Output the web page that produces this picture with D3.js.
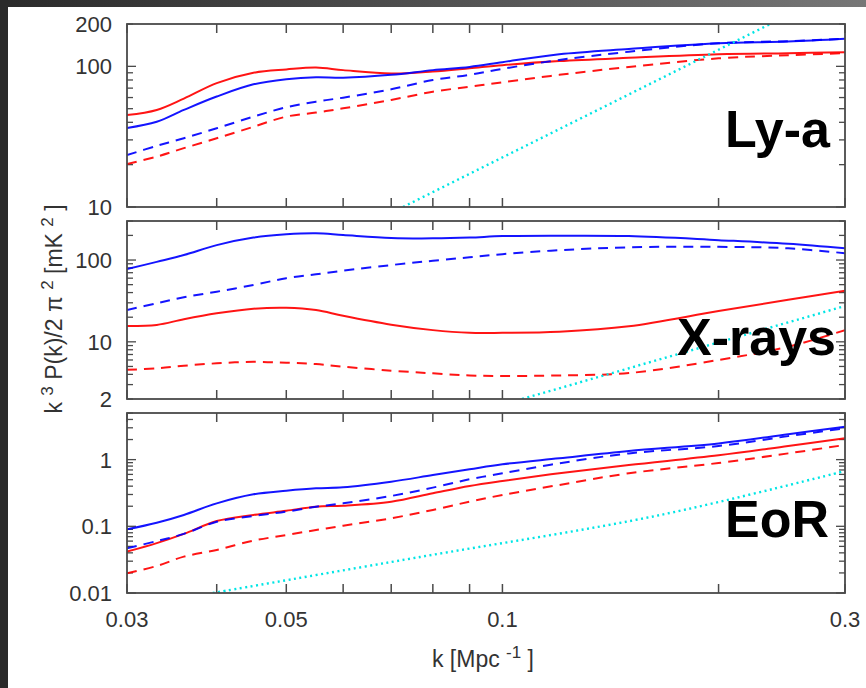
<!DOCTYPE html>
<html><head><meta charset="utf-8">
<script src="https://cdn.jsdelivr.net/npm/d3@7"></script>
<style>body{margin:0;background:#fff}svg{display:block}text{font-family:"Liberation Sans",Arial,sans-serif}</style>
</head><body>
<script>
// ---- data ----
const kGrid = [0.03,0.033,0.036,0.04,0.045,0.05,0.055,0.06,0.07,0.08,0.09,0.1,0.12,0.15,0.2,0.25,0.3];
const xTickVals = [0.03,0.05,0.1,0.3];
const xTickLabels = ["0.03","0.05","0.1","0.3"];
const xMinorVals = [0.04,0.06,0.07,0.08,0.09,0.2];

const lyaRedSolid   = [45,49,59,76,90,95,98,94,89,92,97,102,109,115,122,124,126];
const lyaRedDashed  = [20.2,22.8,26.2,30.8,37.2,43.9,46.9,50.3,57.7,66,71.6,77,87,99,114,120,124];
const lyaBlueSolid  = [36.5,40.4,49,61,74.5,81,83.6,83,87,94,99,107,122,133,146,150,157];
const lyaBlueDashed = [23.4,27.2,30.8,36.3,43.9,51.2,56.1,59.9,68.7,80,87,96,111,127,146,151,157];
const lyaNoiseK = [0.0727,0.236];
const lyaNoise  = [10,200];

const xrBlueSolid  = [77.5,95,115,152,188,206,212,202,186,184,188,196,198,196,175,158,139];
const xrBlueDashed = [24.5,29.6,35,41,49.5,60,67,74,86.8,98,108,118,132,143,145,139,121];
const xrRedSolid   = [15.6,16.1,18.9,22.3,25.4,26.1,24.5,20.8,16.2,13.9,12.9,12.9,13.3,15.5,23.8,32.6,42];
const xrRedDashed  = [4.55,4.74,5.1,5.46,5.7,5.55,5.35,4.97,4.44,4.12,3.88,3.82,3.88,4.15,6.0,8.7,13.9];
const xrNoiseK = [0.1065,0.3];
const xrNoise  = [2,27.4];

const eorBlueSolid  = [0.090,0.113,0.148,0.221,0.302,0.342,0.372,0.385,0.467,0.587,0.716,0.851,1.05,1.35,1.75,2.4,3.12];
const eorBlueDashed = [0.0468,0.06,0.077,0.117,0.143,0.166,0.197,0.221,0.285,0.38,0.507,0.624,0.88,1.24,1.6,2.25,2.95];
const eorRedSolid   = [0.0417,0.056,0.077,0.12,0.148,0.171,0.197,0.204,0.234,0.313,0.402,0.478,0.624,0.83,1.16,1.6,2.09];
const eorRedDashed  = [0.0198,0.0254,0.0351,0.0442,0.061,0.074,0.088,0.102,0.132,0.176,0.234,0.295,0.417,0.624,0.89,1.24,1.66];
const eorNoiseK = [0.0395,0.0768,0.166,0.3];
const eorNoise  = [0.01,0.0347,0.148,0.675];

const panelNames = ["Ly-a","X-rays","EoR"];
const lyaYDomain = [10,200], xrYDomain = [2,300], eorYDomain = [0.01,5];
const lyaYTicks = [10,100,200], xrYTicks = [2,10,100], eorYTicks = [0.01,0.1,1];
const lyaYLabels = ["10","100","200"], xrYLabels = ["2","10","100"], eorYLabels = ["0.01","0.1","1"];

// ---- layout ----
const W = 866, H = 688;
const X0 = 127, X1 = 845;
const svg = d3.select("body").append("svg").attr("width", W).attr("height", H);
svg.append("rect").attr("width", W).attr("height", H).attr("fill", "#fff");
const defs = svg.append("defs");
const grad = defs.append("linearGradient").attr("id","topg").attr("x1","0").attr("x2","1");
grad.append("stop").attr("offset","0").attr("stop-color","#2a2a2a");
grad.append("stop").attr("offset","1").attr("stop-color","#777");
svg.append("rect").attr("x",0).attr("y",0).attr("width",W).attr("height",7).attr("fill","url(#topg)");
svg.append("rect").attr("x",0).attr("y",0).attr("width",8).attr("height",H).attr("fill","#2a2a2a");

const x = d3.scaleLog().domain([0.03,0.3]).range([X0,X1]);

const DASH = "10,7";
const panels = [
  {name: panelNames[0], top: 24, bottom: 207, dom: lyaYDomain, ticks: lyaYTicks, labels: lyaYLabels,
   series: [[lyaRedSolid,"red",null],[lyaRedDashed,"red",DASH],[lyaBlueSolid,"blue",null],[lyaBlueDashed,"blue",DASH]],
   noiseK: lyaNoiseK, noise: lyaNoise, lx: 830, ly: 147},
  {name: panelNames[1], top: 221, bottom: 399, dom: xrYDomain, ticks: xrYTicks, labels: xrYLabels,
   series: [[xrRedSolid,"red",null],[xrRedDashed,"red",DASH],[xrBlueSolid,"blue",null],[xrBlueDashed,"blue",DASH]],
   noiseK: xrNoiseK, noise: xrNoise, lx: 836, ly: 355},
  {name: panelNames[2], top: 413, bottom: 593, dom: eorYDomain, ticks: eorYTicks, labels: eorYLabels,
   series: [[eorRedSolid,"red",null],[eorRedDashed,"red",DASH],[eorBlueSolid,"blue",null],[eorBlueDashed,"blue",DASH]],
   noiseK: eorNoiseK, noise: eorNoise, lx: 829, ly: 537}
];

const frameCol = "#4a4a4a";
panels.forEach((p, i) => {
  const y = d3.scaleLog().domain(p.dom).range([p.bottom, p.top]);
  const g = svg.append("g");
  const cid = "clip" + i;
  defs.append("clipPath").attr("id", cid).append("rect")
    .attr("x", X0).attr("y", p.top).attr("width", X1 - X0).attr("height", p.bottom - p.top);

  const xt = xTickVals.concat(xMinorVals);
  xt.forEach(v => {
    const xx = x(v);
    g.append("line").attr("x1",xx).attr("x2",xx).attr("y1",p.bottom).attr("y2",p.bottom-9).attr("stroke",frameCol).attr("stroke-width",1.5);
    g.append("line").attr("x1",xx).attr("x2",xx).attr("y1",p.top).attr("y2",p.top+9).attr("stroke",frameCol).attr("stroke-width",1.5);
  });
  const lo = Math.floor(Math.log10(p.dom[0])), hi = Math.ceil(Math.log10(p.dom[1]));
  for (let e = lo; e <= hi; e++) {
    for (let m = 1; m <= 9; m++) {
      const v = m * Math.pow(10, e);
      if (v < p.dom[0] * 0.999 || v > p.dom[1] * 1.001) continue;
      const len = (m === 1) ? 9 : 6;
      const yy = y(v);
      g.append("line").attr("x1",X0).attr("x2",X0+len).attr("y1",yy).attr("y2",yy).attr("stroke",frameCol).attr("stroke-width",1.3);
      g.append("line").attr("x1",X1).attr("x2",X1-len).attr("y1",yy).attr("y2",yy).attr("stroke",frameCol).attr("stroke-width",1.3);
    }
  }
  p.ticks.forEach((v, j) => {
    g.append("text").attr("x", 112).attr("y", y(v)).attr("dy","0.36em")
      .attr("text-anchor","end").attr("font-size",22).attr("fill","#333").text(p.labels[j]);
  });

  const line = d3.line().x((d) => x(d[0])).y((d) => y(d[1])).curve(d3.curveCatmullRom.alpha(0.5));
  const lg = g.append("g").attr("clip-path", `url(#${cid})`);
  p.series.forEach(([vals, col, dash]) => {
    lg.append("path").datum(kGrid.map((k, j) => [k, vals[j]]))
      .attr("d", line).attr("fill","none").attr("stroke", col).attr("stroke-width", 2)
      .attr("stroke-dasharray", dash).attr("stroke-opacity", 0.92);
  });
  const nline = d3.line().x((d) => x(d[0])).y((d) => y(d[1])).curve(d3.curveCatmullRom.alpha(0.5));
  lg.append("path").datum(p.noiseK.map((k, j) => [k, p.noise[j]]))
    .attr("d", nline).attr("fill","none").attr("stroke","#00e5e5").attr("stroke-width",2.4)
    .attr("stroke-dasharray","2,3.5");

  g.append("rect").attr("x",X0).attr("y",p.top).attr("width",X1-X0).attr("height",p.bottom-p.top)
    .attr("fill","none").attr("stroke",frameCol).attr("stroke-width",1.8);

  g.append("text").attr("x", p.lx).attr("y", p.ly).attr("text-anchor","end")
    .attr("font-size",52).attr("font-weight","bold").attr("fill","#000").text(p.name);

  if (i === 2) {
    xTickVals.forEach((v, j) => {
      g.append("text").attr("x", x(v)).attr("y", 627).attr("text-anchor","middle")
        .attr("font-size",22).attr("fill","#333").text(xTickLabels[j]);
    });
  }
});

// axis titles
const xtt = svg.append("text").attr("x", 483).attr("y", 667).attr("text-anchor","middle")
  .attr("font-size",23).attr("fill","#333");
xtt.append("tspan").text("k [Mpc ");
xtt.append("tspan").attr("dy",-9).attr("font-size",17).text("-1");
xtt.append("tspan").attr("dy",9).text(" ]");

const yt = svg.append("text").attr("transform","translate(62,309) rotate(-90)")
  .attr("text-anchor","middle").attr("font-size",23).attr("fill","#333");
yt.append("tspan").text("k ");
yt.append("tspan").attr("dy",-9).attr("font-size",17).text("3");
yt.append("tspan").attr("dy",9).text(" P(k)/2 \u03c0 ");
yt.append("tspan").attr("dy",-9).attr("font-size",17).text("2");
yt.append("tspan").attr("dy",9).text(" [mK ");
yt.append("tspan").attr("dy",-9).attr("font-size",17).text("2");
yt.append("tspan").attr("dy",9).text(" ]");
</script>
</body></html>
